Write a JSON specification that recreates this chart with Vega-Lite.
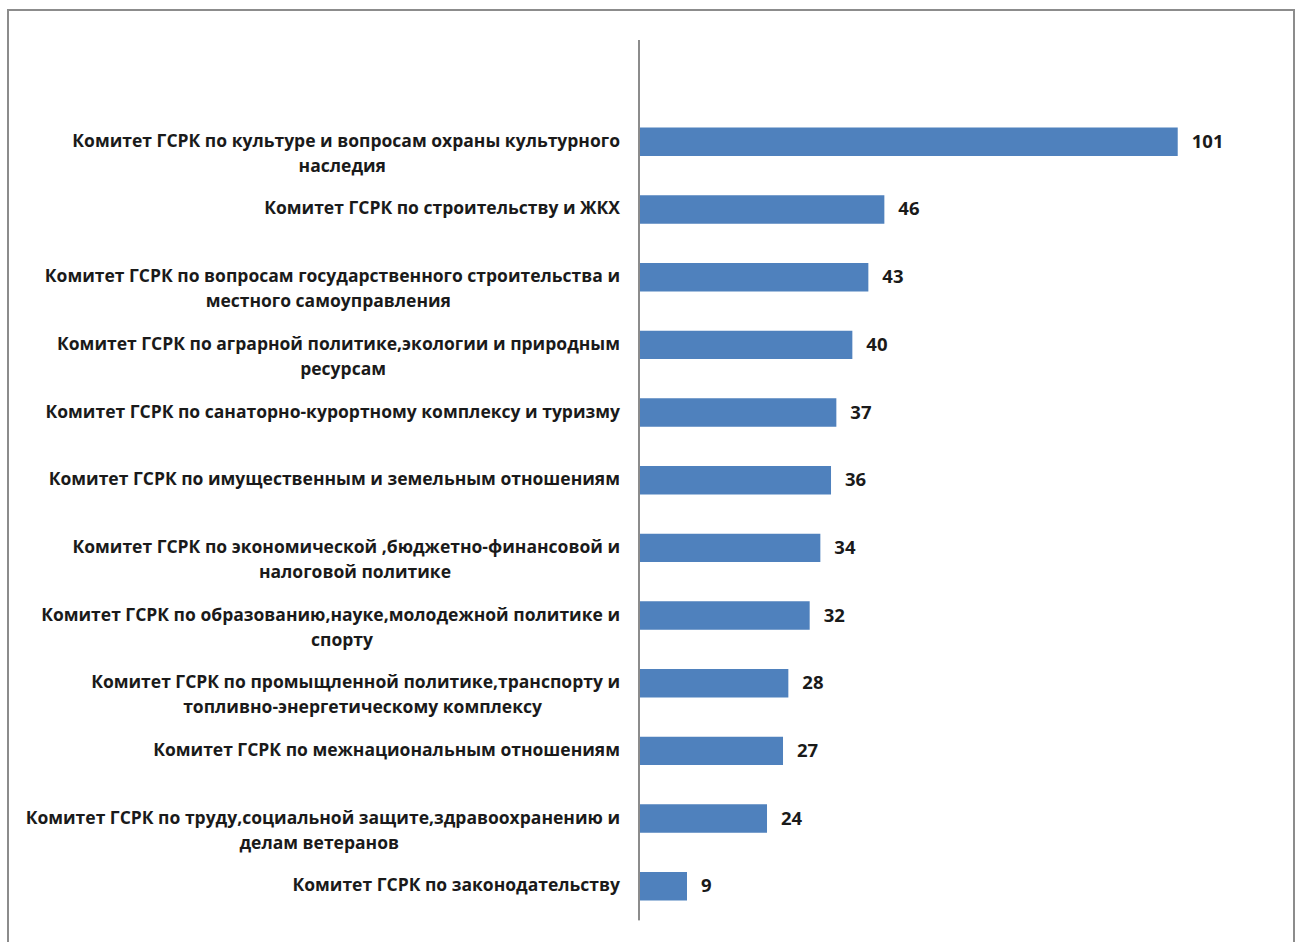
{
  "$schema": "https://vega.github.io/schema/vega-lite/v6.json",
  "width": 1286,
  "height": 933,
  "autosize": {"type": "none"},
  "padding": {"left": 8, "top": 10, "right": 2, "bottom": -1},
  "background": "white",
  "config": {"view": {"stroke": "#8c8c8c", "strokeWidth": 2}},
  "data": {
    "values": [
      {"l1": "Комитет ГСРК по культуре и вопросам охраны культурного", "l2": "наследия", "value": 101},
      {"l1": "Комитет ГСРК по строительству и ЖКХ", "l2": "", "value": 46},
      {"l1": "Комитет ГСРК по вопросам государственного строительства и", "l2": "местного самоуправления", "value": 43},
      {"l1": "Комитет ГСРК по аграрной политике,экологии и природным", "l2": "ресурсам", "value": 40},
      {"l1": "Комитет ГСРК по санаторно-курортному комплексу и туризму", "l2": "", "value": 37},
      {"l1": "Комитет ГСРК по имущественным и земельным отношениям", "l2": "", "value": 36},
      {"l1": "Комитет ГСРК по экономической ,бюджетно-финансовой и", "l2": "налоговой политике", "value": 34},
      {"l1": "Комитет ГСРК по образованию,науке,молодежной политике и", "l2": "спорту", "value": 32},
      {"l1": "Комитет ГСРК по промыщленной политике,транспорту и", "l2": "топливно-энергетическому комплексу", "value": 28},
      {"l1": "Комитет ГСРК по межнациональным отношениям", "l2": "", "value": 27},
      {"l1": "Комитет ГСРК по труду,социальной защите,здравоохранению и", "l2": "делам ветеранов", "value": 24},
      {"l1": "Комитет ГСРК по законодательству", "l2": "", "value": 9}
    ]
  },
  "encoding": {
    "y": {
      "field": "l1",
      "type": "nominal",
      "scale": {
        "domain": [
          " ",
          "Комитет ГСРК по культуре и вопросам охраны культурного",
          "Комитет ГСРК по строительству и ЖКХ",
          "Комитет ГСРК по вопросам государственного строительства и",
          "Комитет ГСРК по аграрной политике,экологии и природным",
          "Комитет ГСРК по санаторно-курортному комплексу и туризму",
          "Комитет ГСРК по имущественным и земельным отношениям",
          "Комитет ГСРК по экономической ,бюджетно-финансовой и",
          "Комитет ГСРК по образованию,науке,молодежной политике и",
          "Комитет ГСРК по промыщленной политике,транспорту и",
          "Комитет ГСРК по межнациональным отношениям",
          "Комитет ГСРК по труду,социальной защите,здравоохранению и",
          "Комитет ГСРК по законодательству"
        ],
        "paddingInner": 0.58,
        "paddingOuter": 0.683,
        "align": 0.54
      },
      "axis": null
    }
  },
  "layer": [
    {
      "mark": {"type": "bar", "color": "#4F81BD"},
      "encoding": {
        "x": {
          "field": "value",
          "type": "quantitative",
          "scale": {"domain": [-118.3, 122.8], "nice": false, "zero": false},
          "axis": null
        },
        "x2": {"datum": 0}
      }
    },
    {
      "mark": {"type": "text", "align": "left", "baseline": "middle", "dx": 14, "font": "Open Sans", "fontWeight": "bold", "fontSize": 18.5, "color": "#1a1a1a"},
      "encoding": {
        "x": {"field": "value", "type": "quantitative"},
        "text": {"field": "value", "type": "quantitative"}
      }
    },
    {
      "transform": [
        {
          "calculate": "datum.l2 ? datum.l1 + '\\n' + pad(datum.l2, length(datum.l2) + round((length(datum.l1) - length(datum.l2)) * 0.395), '\\u2800', 'right') : datum.l1",
          "as": "lbl"
        }
      ],
      "mark": {"type": "text", "align": "right", "baseline": "middle", "dx": -19, "lineBreak": "\n", "lineHeight": 25, "font": "Open Sans", "fontWeight": "bold", "fontSize": 17.5, "color": "#1a1a1a"},
      "encoding": {
        "x": {"datum": 0, "type": "quantitative"},
        "text": {"field": "lbl", "type": "nominal"}
      }
    },
    {
      "mark": {"type": "rule", "color": "#8c8c8c", "strokeWidth": 1},
      "encoding": {
        "x": {"datum": 0, "type": "quantitative"},
        "y": {"datum": " ", "bandPosition": -0.69},
        "y2": {"datum": "Комитет ГСРК по законодательству", "bandPosition": 1.69}
      }
    }
  ]
}
